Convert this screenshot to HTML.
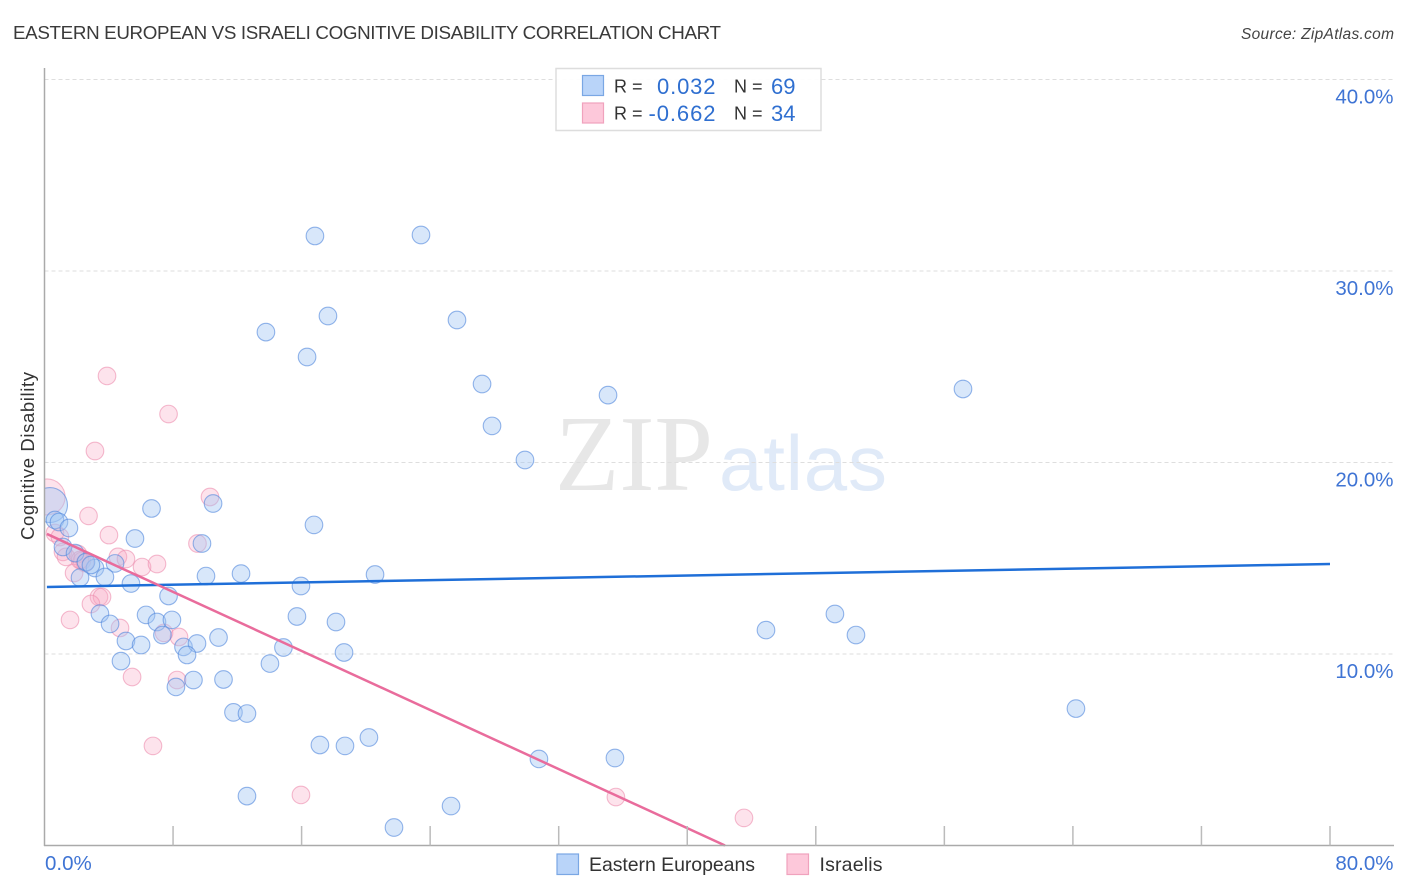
<!DOCTYPE html>
<html lang="en">
<head>
<meta charset="utf-8">
<title>Eastern European vs Israeli Cognitive Disability Correlation Chart</title>
<style>
html,body{margin:0;padding:0;background:#fff;width:1406px;height:892px;overflow:hidden}
svg{display:block;font-family:"Liberation Sans",Arial,sans-serif}
</style>
</head>
<body>
<svg id="chart" xmlns="http://www.w3.org/2000/svg" width="1406" height="892" viewBox="0 0 1406 892">
  <defs><clipPath id="plot-clip"><rect x="44.5" y="60" width="1350" height="785.5"/></clipPath></defs>
  <text x="13" y="39" font-size="18.8" fill="#3a3a3a" textLength="708" lengthAdjust="spacing">EASTERN EUROPEAN VS ISRAELI COGNITIVE DISABILITY CORRELATION CHART</text>
  <text x="1394" y="39" font-size="15.5" font-style="italic" fill="#444" text-anchor="end" textLength="153" lengthAdjust="spacing">Source: ZipAtlas.com</text>
  <g>
    <text x="555" y="490" font-family="'Liberation Serif',serif" font-size="108" fill="#e7e7e7" textLength="158" lengthAdjust="spacingAndGlyphs">ZIP</text>
    <text x="719" y="490" font-size="78" fill="#e0eaf8" textLength="168" lengthAdjust="spacing">atlas</text>
  </g>
  <g id="grid"></g>
  <g id="points" clip-path="url(#plot-clip)"></g>
  <g id="trends"></g>
  <g id="axes">
    <line x1="44.5" y1="68" x2="44.5" y2="846" stroke="#aaa" stroke-width="1.5"/>
    <line x1="44" y1="845.5" x2="1394" y2="845.5" stroke="#aaa" stroke-width="1.5"/>
  </g>
  <text transform="translate(34 456) rotate(-90)" font-size="18.5" fill="#333" text-anchor="middle" textLength="168" lengthAdjust="spacing">Cognitive Disability</text>
  <g>
    <rect x="556" y="68.5" width="265" height="62" fill="#fff" fill-opacity="0.92" stroke="#ddd" stroke-width="1.5"/>
    <rect x="582.5" y="75.5" width="21" height="20" fill="#b9d4f9" stroke="#7aa7e4" stroke-width="1.2"/>
    <rect x="582.5" y="103" width="21" height="20" fill="#fdc8da" stroke="#f0a2bd" stroke-width="1.2"/>
    <text x="614" y="92.5" font-size="18" fill="#333">R =</text>
    <text x="657" y="94" font-size="22" fill="#2f6fd0" textLength="58.5" lengthAdjust="spacing">0.032</text>
    <text x="734" y="92.5" font-size="18" fill="#333">N =</text>
    <text x="771" y="94" font-size="22" fill="#2f6fd0">69</text>
    <text x="614" y="119.5" font-size="18" fill="#333">R =</text>
    <text x="648.5" y="121" font-size="22" fill="#2f6fd0" textLength="67" lengthAdjust="spacing">-0.662</text>
    <text x="734" y="119.5" font-size="18" fill="#333">N =</text>
    <text x="771" y="121" font-size="22" fill="#2f6fd0">34</text>
  </g>
  <g>
    <rect x="557" y="854" width="21.5" height="20.5" fill="#b9d4f9" stroke="#7aa7e4" stroke-width="1.2"/>
    <text x="589" y="871" font-size="19.5" fill="#333" textLength="166" lengthAdjust="spacing">Eastern Europeans</text>
    <rect x="787" y="854" width="21.5" height="20.5" fill="#fdc8da" stroke="#f0a2bd" stroke-width="1.2"/>
    <text x="819.5" y="871" font-size="19.5" fill="#333" textLength="63" lengthAdjust="spacing">Israelis</text>
  </g>
</svg>
<script>
const xTickValues = [8, 16, 24, 32, 40, 48, 56, 64, 72, 80];
const yTickValues = [10, 20, 30, 40];
const yTickLabels = ["10.0%", "20.0%", "30.0%", "40.0%"];
const xEndLabels = ["0.0%", "80.0%"];

const eeX = [23.43,16.83,17.64,25.67,13.78,16.34,27.23,35.07,57.16,27.85,29.90,10.49,6.66,16.77,5.63,9.80,4.39,3.14,3.76,2.21,5.38,10.05,12.23,15.96,20.57,7.72,3.45,6.32,4.08,7.00,7.93,15.71,18.14,49.19,44.90,50.50,5.07,6.01,7.34,10.83,8.65,9.49,8.87,14.87,18.64,4.76,14.03,9.27,11.14,8.18,11.76,12.60,64.19,17.14,18.70,20.19,30.77,35.50,12.60,25.30,21.75,0.34,0.65,0.90,1.52,1.15,1.90,2.58,2.89];
const eeY = [31.88,31.83,27.65,27.44,26.81,25.51,24.10,23.52,23.84,21.91,20.13,17.86,17.60,16.74,16.03,15.77,14.73,14.49,14.02,13.99,13.68,14.07,14.20,13.55,14.15,13.03,12.11,12.04,11.57,11.67,11.78,11.96,11.67,12.09,11.25,10.99,10.68,10.47,10.99,10.86,10.37,10.55,9.95,10.34,10.08,9.63,9.50,8.64,8.67,8.28,6.95,6.89,7.15,5.25,5.20,5.64,4.52,4.57,2.58,2.06,0.94,17.78,17.00,16.89,16.58,15.59,15.27,14.80,14.65];
const eeWeightBig = [0.34];

const ilX = [3.89,7.72,3.14,0.16,10.30,2.74,4.01,0.65,0.96,1.15,1.34,2.08,2.33,2.52,4.57,5.07,6.07,7.00,1.84,9.52,3.39,3.58,2.89,1.59,4.70,7.44,8.37,5.45,8.25,6.75,15.96,35.56,43.53,2.21];
const ilY = [24.52,22.53,20.60,18.20,18.20,17.21,16.21,16.32,16.11,15.33,15.07,15.22,14.86,14.75,15.07,14.96,14.54,14.70,14.23,15.77,12.98,12.98,12.61,11.78,11.36,11.10,10.89,8.80,8.64,5.20,2.64,2.53,1.44,14.91];
const ilWeightBig = [0.16];

const eeTrendX = [0.15, 80];
const eeTrendY = [13.5, 14.7];
const ilTrendX = [0.15, 42.35];
const ilTrendY = [16.27, 0];

const NS = 'http://www.w3.org/2000/svg';
function sx(v){ return 44.5 + v * 1285.5 / 80; }
function sy(v){ return 845.5 - v * 191.5 / 10; }
function mk(parent, tag, attrs){
  const el = document.createElementNS(NS, tag);
  for (const k in attrs) el.setAttribute(k, attrs[k]);
  parent.appendChild(el);
  return el;
}
const gridG = document.getElementById('grid');
const axesG = document.getElementById('axes');
const pointsG = document.getElementById('points');
const trendsG = document.getElementById('trends');
const svgRoot = document.getElementById('chart');

yTickValues.forEach(function(v, i){
  const g = mk(gridG, 'line', {x1:44.5, x2:1394, y1:sy(v), y2:sy(v), stroke:'#dedede', 'stroke-width':1, 'stroke-dasharray':'4 3'});
  
  
  const t = mk(svgRoot, 'text', {x:1393.5, y:sy(v) + 24, 'font-size':20.5, fill:'#3f74d4', 'text-anchor':'end'});
  t.textContent = yTickLabels[i];
  
  
});
xTickValues.forEach(function(v){
  const k = mk(axesG, 'line', {x1:sx(v), x2:sx(v), y1:826, y2:845.5, stroke:'#bbb', 'stroke-width':1.5});
  
  
});
const xl0 = mk(svgRoot, 'text', {x:45, y:870, 'font-size':20.5, fill:'#3f74d4'});
xl0.textContent = xEndLabels[0];


const xl1 = mk(svgRoot, 'text', {x:1393.5, y:870, 'font-size':20.5, fill:'#3f74d4', 'text-anchor':'end'});
xl1.textContent = xEndLabels[1];



ilX.forEach(function(x, i){
  const big = ilWeightBig.indexOf(x) >= 0;
  const c = mk(pointsG, 'circle', {cx:sx(x), cy:sy(ilY[i]), r: big ? 18 : 8.8, fill:'#f9a8c4', 'fill-opacity':0.32, stroke:'#ee8fb0', 'stroke-opacity':0.62, 'stroke-width':1.1});
  
  
});
eeX.forEach(function(x, i){
  const big = eeWeightBig.indexOf(x) >= 0;
  const c = mk(pointsG, 'circle', {cx:sx(x), cy:sy(eeY[i]), r: big ? 17.5 : 8.8, fill:'#a3c6f2', 'fill-opacity':0.42, stroke:'#4f86dc', 'stroke-opacity':0.6, 'stroke-width':1.1});
  
  
});

const eeLine = mk(trendsG, 'line', {x1:sx(eeTrendX[0]), y1:sy(eeTrendY[0]), x2:sx(eeTrendX[1]), y2:sy(eeTrendY[1]), stroke:'#1f6fd8', 'stroke-width':2.5});


const ilLine = mk(trendsG, 'line', {x1:sx(ilTrendX[0]), y1:sy(ilTrendY[0]), x2:sx(ilTrendX[1]), y2:sy(ilTrendY[1]), stroke:'#e96c9c', 'stroke-width':2.5});


</script>
</body>
</html>
